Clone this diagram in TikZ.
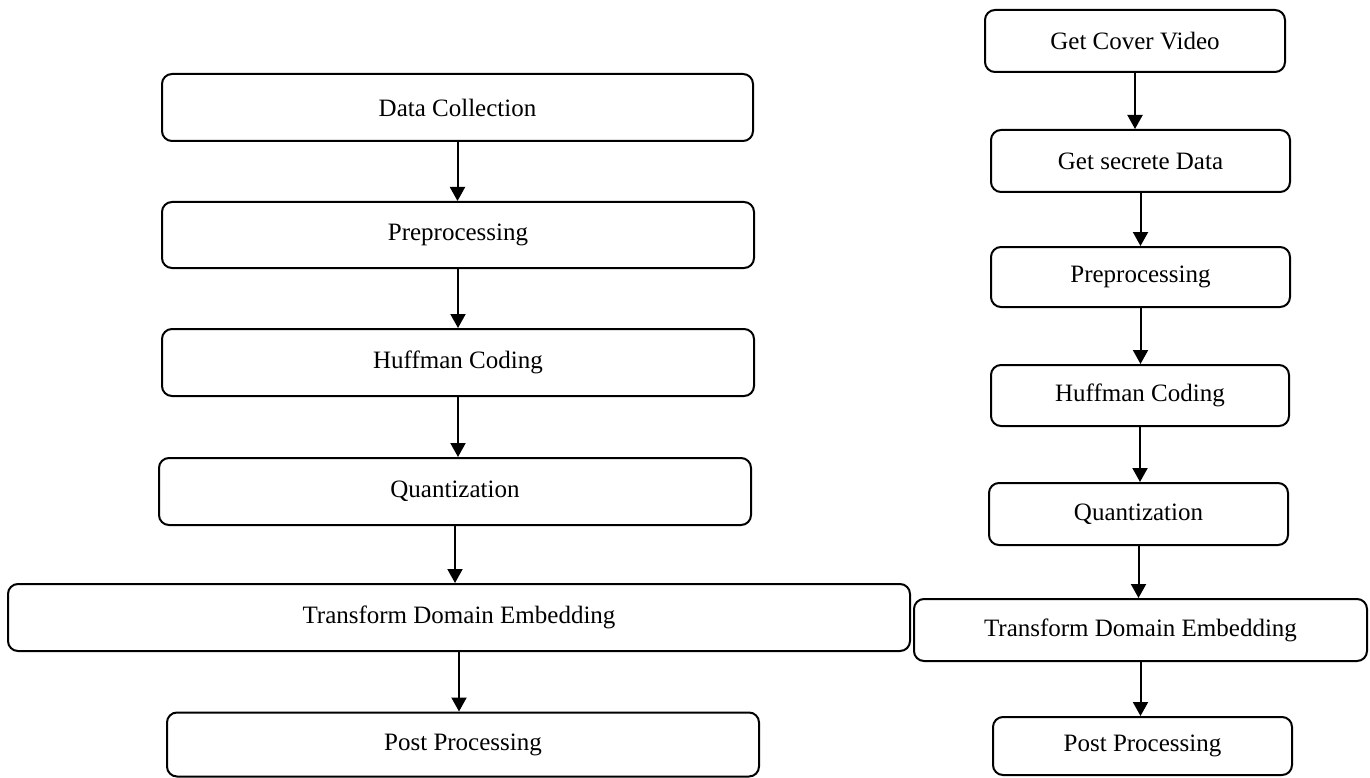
\documentclass[tikz,border=0pt]{standalone}
\usepackage{fontspec}
\setmainfont{Liberation Serif}
\usepackage{tikz}
\usetikzlibrary{arrows.meta}

\tikzset{
  stage/.style={draw, line width=2pt, rounded corners=10pt, fill=white, inner sep=0pt, align=center},
  flow/.style={line width=2pt, -{Triangle[length=14pt, width=15pt]}}
}

\begin{document}
\begin{tikzpicture}[x=1pt, y=-1pt, font=\fontsize{25}{30}\selectfont]
        \useasboundingbox (0,0) rectangle (1370,778);

        % Left column
        \node[stage, minimum width=591pt, minimum height=67pt] (dc) at (457.5,107.5) {Data Collection};
        \node[stage, minimum width=592pt, minimum height=66pt] (lpre) at (458,235) {Preprocessing};
        \node[stage, minimum width=592pt, minimum height=67pt] (lhuff) at (458,362.5) {Huffman Coding};
        \node[stage, minimum width=592pt, minimum height=67pt] (lquant) at (455,491.5) {Quantization};
        \node[stage, minimum width=902pt, minimum height=67pt] (ltde) at (459,617.5) {Transform Domain Embedding};
        \node[stage, minimum width=592pt, minimum height=64pt] (lpost) at (463,744.5) {Post Processing};

        \draw[flow] (dc.south) -- (dc.south |- lpre.north);
        \draw[flow] (lpre.south) -- (lpre.south |- lhuff.north);
        \draw[flow] (lhuff.south) -- (lhuff.south |- lquant.north);
        \draw[flow] (lquant.south) -- (lquant.south |- ltde.north);
        \draw[flow] (ltde.south) -- (ltde.south |- lpost.north);

        % Right column
        \node[stage, minimum width=300pt, minimum height=62pt] (cover) at (1135,41) {Get Cover Video};
        \node[stage, minimum width=299pt, minimum height=62pt] (secret) at (1140.5,161) {Get secrete Data};
        \node[stage, minimum width=299pt, minimum height=60pt] (rpre) at (1140.5,277) {Preprocessing};
        \node[stage, minimum width=298pt, minimum height=61pt] (rhuff) at (1140,395.5) {Huffman Coding};
        \node[stage, minimum width=299pt, minimum height=62pt] (rquant) at (1138.5,514) {Quantization};
        \node[stage, minimum width=453pt, minimum height=62pt] (rtde) at (1140.5,630) {Transform Domain Embedding};
        \node[stage, minimum width=299pt, minimum height=58pt] (rpost) at (1142.5,746) {Post Processing};

        \draw[flow] (cover.south) -- (cover.south |- secret.north);
        \draw[flow] (secret.south) -- (secret.south |- rpre.north);
        \draw[flow] (rpre.south) -- (rpre.south |- rhuff.north);
        \draw[flow] (rhuff.south) -- (rhuff.south |- rquant.north);
        \draw[flow] (rquant.south) -- (rquant.south |- rtde.north);
        \draw[flow] (rtde.south) -- (rtde.south |- rpost.north);
\end{tikzpicture}
\end{document}
